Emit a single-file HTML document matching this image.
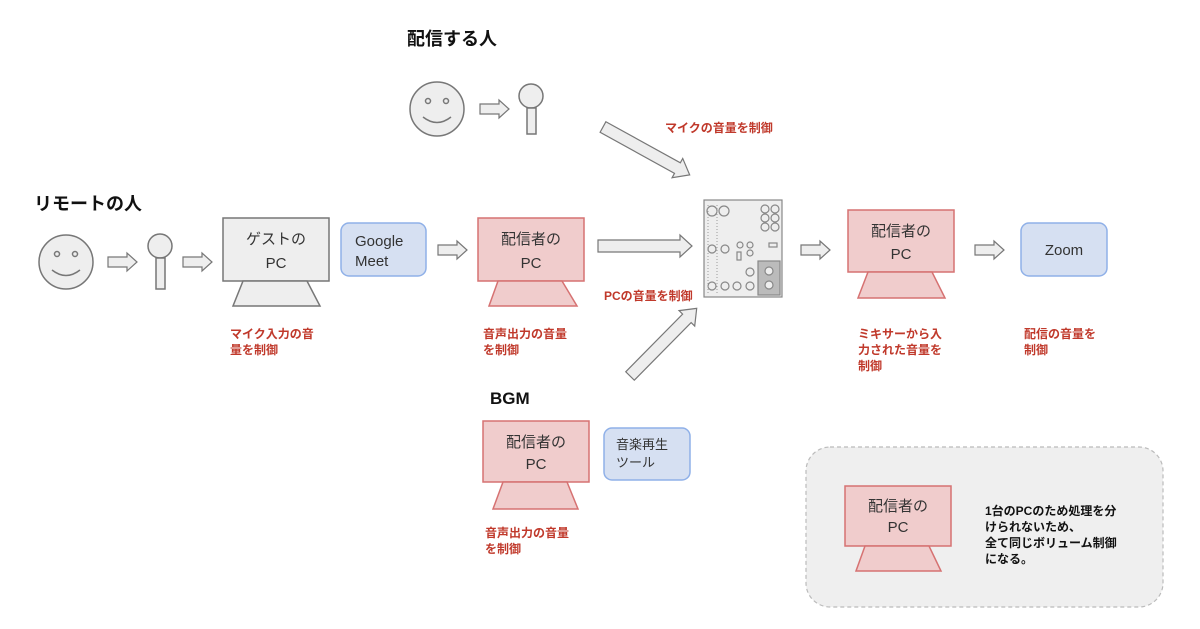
<!DOCTYPE html>
<html><head><meta charset="utf-8"><style>
body{margin:0;background:#fff;}
svg{display:block;font-family:"Liberation Sans","Noto Sans CJK JP",sans-serif;}
.t{font-size:18px;font-weight:bold;fill:#111}
.r{font-size:12px;font-weight:bold;fill:#c0392b}
.n{font-size:15px;fill:#333;text-anchor:middle}
.ar{fill:#eee;stroke:#777;stroke-width:1.2}
</style></head><body>
<svg width="1200" height="629" viewBox="0 0 1200 629">
<defs>
<polygon id="a" class="ar" points="0,-5 19,-5 19,-9 29,0 19,9 19,5 0,5"/>
</defs>
<text class="t" x="407" y="45">配信する人</text>
<text class="t" x="34" y="210">リモートの人</text>
<text class="t" x="490" y="404" style="font-size:17px">BGM</text>

<g stroke="#777" stroke-width="1.5" fill="#eee">
<circle cx="66" cy="262" r="27"/>
<circle cx="57" cy="254" r="2.5"/><circle cx="75" cy="254" r="2.5"/>
<path d="M52 270 Q66 281 80 270" fill="none"/>
<circle cx="160" cy="246" r="12"/>
<rect x="156" y="258" width="9" height="31"/>
<circle cx="437" cy="109" r="27"/>
<circle cx="428" cy="101" r="2.5"/><circle cx="446" cy="101" r="2.5"/>
<path d="M423 117 Q437 128 451 117" fill="none"/>
<circle cx="531" cy="96" r="12"/>
<rect x="527" y="108" width="9" height="26"/>
</g>
<use href="#a" x="108" y="262"/>
<use href="#a" x="183" y="262"/>
<use href="#a" x="480" y="109"/>
<use href="#a" x="438" y="250"/>
<use href="#a" x="801" y="250"/>
<use href="#a" x="975" y="250"/>
<polygon class="ar" points="598,240 680,240 680,235 692,246 680,257 680,252 598,252"/>
<g transform="translate(603,127) rotate(28.9)"><polygon class="ar" points="0,-6 85,-6 85,-11 99,0 85,11 85,6 0,6"/></g>
<g transform="translate(630,376) rotate(-45.4)"><polygon class="ar" points="0,-6 81,-6 81,-11 95,0 81,11 81,6 0,6"/></g>

<g stroke="#777" stroke-width="1.5" fill="#eee">
<rect x="223" y="218" width="106" height="63"/>
<polygon points="243,281 307,281 320,306 233,306"/>
</g>
<text class="n" x="276" y="244">ゲストの</text><text class="n" x="276" y="268">PC</text>
<rect x="341" y="223" width="85" height="53" rx="8" fill="#d6e0f2" stroke="#8fb0e8" stroke-width="1.5"/>
<text x="355" y="246" font-size="15" fill="#333">Google</text><text x="355" y="266" font-size="15" fill="#333">Meet</text>

<g stroke="#d67272" stroke-width="1.5" fill="#f0cccc">
<rect x="478" y="218" width="106" height="63"/>
<polygon points="498,281 562,281 577,306 489,306"/>
<rect x="848" y="210" width="106" height="62"/>
<polygon points="868,272 932,272 945,298 858,298"/>
<rect x="483" y="421" width="106" height="61"/>
<polygon points="503,482 567,482 578,509 493,509"/>
</g>
<text class="n" x="531" y="244">配信者の</text><text class="n" x="531" y="268">PC</text>
<text class="n" x="901" y="236">配信者の</text><text class="n" x="901" y="259">PC</text>
<text class="n" x="536" y="447">配信者の</text><text class="n" x="536" y="469">PC</text>

<rect x="1021" y="223" width="86" height="53" rx="8" fill="#d6e0f2" stroke="#8fb0e8" stroke-width="1.5"/>
<text class="n" x="1064" y="255">Zoom</text>
<rect x="604" y="428" width="86" height="52" rx="8" fill="#d6e0f2" stroke="#8fb0e8" stroke-width="1.5"/>
<text x="616" y="449" font-size="13" fill="#333">音楽再生</text><text x="616" y="467" font-size="13" fill="#333">ツール</text>

<g stroke="#888" stroke-width="1.2" fill="#eee">
<rect x="704" y="200" width="78" height="97"/>
<rect x="758" y="261" width="22" height="34" fill="#bbb"/>
<circle cx="712" cy="211" r="5"/><circle cx="724" cy="211" r="5"/>
<circle cx="765" cy="209" r="4"/><circle cx="775" cy="209" r="4"/>
<circle cx="765" cy="218" r="4"/><circle cx="775" cy="218" r="4"/>
<circle cx="765" cy="227" r="4"/><circle cx="775" cy="227" r="4"/>
<circle cx="712" cy="249" r="4"/><circle cx="725" cy="249" r="4"/>
<circle cx="740" cy="245" r="3"/><circle cx="750" cy="245" r="3"/><circle cx="750" cy="253" r="3"/>
<rect x="737" y="252" width="4" height="8"/><rect x="769" y="243" width="8" height="4"/>
<circle cx="750" cy="272" r="4"/><circle cx="769" cy="271" r="4"/><circle cx="769" cy="285" r="4"/>
<circle cx="712" cy="286" r="4"/><circle cx="725" cy="286" r="4"/><circle cx="737" cy="286" r="4"/><circle cx="750" cy="286" r="4"/>
</g>
<line x1="708" y1="205" x2="708" y2="294" stroke="#999" stroke-dasharray="1,2"/>
<line x1="717" y1="205" x2="717" y2="294" stroke="#999" stroke-dasharray="1,2"/>

<text class="r" x="665" y="132">マイクの音量を制御</text>
<text class="r" x="604" y="300">PCの音量を制御</text>
<text class="r" x="230" y="338">マイク入力の音</text><text class="r" x="230" y="354">量を制御</text>
<text class="r" x="483" y="338">音声出力の音量</text><text class="r" x="483" y="354">を制御</text>
<text class="r" x="858" y="338">ミキサーから入</text><text class="r" x="858" y="354">力された音量を</text><text class="r" x="858" y="370">制御</text>
<text class="r" x="1024" y="338">配信の音量を</text><text class="r" x="1024" y="354">制御</text>
<text class="r" x="485" y="537">音声出力の音量</text><text class="r" x="485" y="553">を制御</text>

<rect x="806" y="447" width="357" height="160" rx="24" fill="#efefef" stroke="#bbb" stroke-width="1.2" stroke-dasharray="4,3"/>
<g stroke="#d67272" stroke-width="1.5" fill="#f0cccc">
<rect x="845" y="486" width="106" height="60"/>
<polygon points="865,546 929,546 941,571 856,571"/>
</g>
<text class="n" x="898" y="511">配信者の</text><text class="n" x="898" y="532">PC</text>
<g font-size="12" font-weight="bold" fill="#111">
<text x="985" y="515">1台のPCのため処理を分</text>
<text x="985" y="531">けられないため、</text>
<text x="985" y="547">全て同じボリューム制御</text>
<text x="985" y="563">になる。</text>
</g>
</svg>
</body></html>
